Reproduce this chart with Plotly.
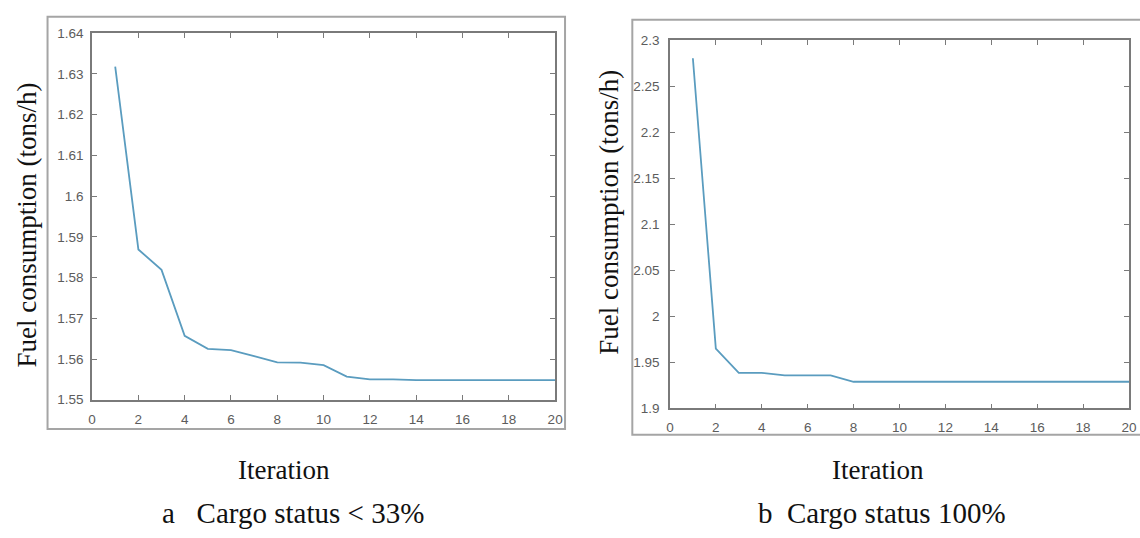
import plotly.graph_objects as go

W, H = 1140, 538

iterations = list(range(1, 21))
fuel_a = [1.6318, 1.5869, 1.5819, 1.5657, 1.5625, 1.5622, 1.5607, 1.5592, 1.5591, 1.5585,
          1.5557, 1.5550, 1.5550, 1.5548, 1.5548, 1.5548, 1.5548, 1.5548, 1.5548, 1.5548]
fuel_b = [2.2803, 1.9650, 1.9387, 1.9387, 1.9360, 1.9360, 1.9360, 1.9290, 1.9290, 1.9290,
          1.9290, 1.9290, 1.9290, 1.9290, 1.9290, 1.9290, 1.9290, 1.9290, 1.9290, 1.9290]

x_ticks = [0, 2, 4, 6, 8, 10, 12, 14, 16, 18, 20]
y_ticks_a = [1.55, 1.56, 1.57, 1.58, 1.59, 1.60, 1.61, 1.62, 1.63, 1.64]
y_labels_a = ["1.55", "1.56", "1.57", "1.58", "1.59", "1.6", "1.61", "1.62", "1.63", "1.64"]
y_ticks_b = [1.9, 1.95, 2.0, 2.05, 2.1, 2.15, 2.2, 2.25, 2.3]
y_labels_b = ["1.9", "1.95", "2", "2.05", "2.1", "2.15", "2.2", "2.25", "2.3"]

y_title = "Fuel consumption (tons/h)"
x_title = "Iteration"
caption_a = "a   Cargo status < 33%"
caption_b = "b  Cargo status 100%"

LINE = "#5a9cbf"
AX = "#7a7a7a"
TICKFONT = dict(family="Liberation Sans, Arial", size=13.5, color="#5c5c5c")
SERIF = "Liberation Serif, Times New Roman, serif"


def px_x(p):
    return p / W


def px_y(p):
    return 1 - p / H


fig = go.Figure()
fig.add_trace(go.Scatter(x=iterations, y=fuel_a, mode="lines", xaxis="x", yaxis="y",
                         line=dict(color=LINE, width=1.8), showlegend=False))
fig.add_trace(go.Scatter(x=iterations, y=fuel_b, mode="lines", xaxis="x2", yaxis="y2",
                         line=dict(color=LINE, width=1.8), showlegend=False))

axis_common = dict(showgrid=False, zeroline=False, showline=True, linecolor=AX, linewidth=1.5,
                   mirror="ticks", ticks="inside", ticklen=5, tickcolor=AX, tickwidth=1,
                   tickfont=TICKFONT)

fig.update_layout(
    width=W, height=H, margin=dict(l=0, r=0, t=0, b=0),
    paper_bgcolor="white", plot_bgcolor="white",
    xaxis=dict(domain=[px_x(89), px_x(557)], range=[0, 20], tickvals=x_ticks,
               anchor="y", ticklabelstandoff=6, **axis_common),
    yaxis=dict(domain=[px_y(404), px_y(27)], range=[1.55, 1.64], tickvals=y_ticks_a,
               ticktext=y_labels_a, anchor="x", ticklabelstandoff=4, **axis_common),
    xaxis2=dict(domain=[px_x(673), px_x(1137)], range=[0, 20], tickvals=x_ticks,
                anchor="y2", ticklabelstandoff=6, **axis_common),
    yaxis2=dict(domain=[px_y(413), px_y(34)], range=[1.9, 2.3], tickvals=y_ticks_b,
                ticktext=y_labels_b, anchor="x2", ticklabelstandoff=6, **axis_common),
)

# outer frames
fig.add_shape(type="rect", xref="paper", yref="paper",
              x0=px_x(44), x1=px_x(567), y0=px_y(434), y1=px_y(10),
              line=dict(color="#a5a5a5", width=2), fillcolor="rgba(0,0,0,0)", layer="below")
fig.add_shape(type="rect", xref="paper", yref="paper",
              x0=px_x(635), x1=px_x(1160), y0=px_y(440), y1=px_y(13),
              line=dict(color="#a5a5a5", width=2), fillcolor="rgba(0,0,0,0)", layer="below")

annots = [
    (23, 224, y_title, -90, 27),
    (612, 211, y_title, -90, 27),
    (283, 476, x_title, 0, 27),
    (883, 476, x_title, 0, 27),
    (292, 521, caption_a, 0, 29),
    (887, 521, caption_b, 0, 29),
]
for x, y, t, ang, size in annots:
    fig.add_annotation(x=px_x(x), y=px_y(y), xref="paper", yref="paper", text=t,
                       textangle=ang, showarrow=False, xanchor="center", yanchor="middle",
                       font=dict(family=SERIF, size=size, color="#111111"))

fig.write_html("out.html")
